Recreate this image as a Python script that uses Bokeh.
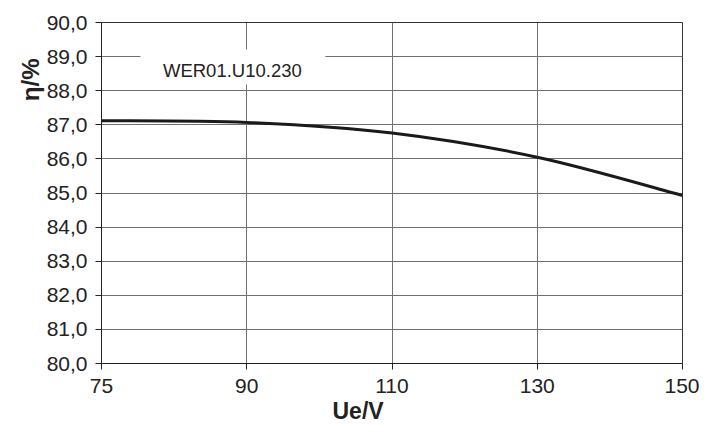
import numpy as np
from bokeh.plotting import figure
from bokeh.models import (FixedTicker, CustomJSTickFormatter, BoxAnnotation,
                          Label, Range1d, ColumnDataSource, Title)
from bokeh.embed import file_html
from bokeh.resources import INLINE

# ---- data ----
u_labels = ["75", "90", "110", "130", "150"]
eta = [87.12, 87.07, 86.76, 86.05, 84.93]
y_ticks = [80, 81, 82, 83, 84, 85, 86, 87, 88, 89, 90]
series_name = "WER01.U10.230"
x_title = "Ue/V"
y_title = "η/%"

xs = list(range(len(u_labels)))

# smooth (Catmull-Rom style) bezier segments through the data points
x0, y0, x1, y1, cx0, cy0, cx1, cy1 = [], [], [], [], [], [], [], []
n = len(xs)
for i in range(n - 1):
    pa = (xs[max(i - 1, 0)], eta[max(i - 1, 0)])
    pb = (xs[i], eta[i])
    pc = (xs[i + 1], eta[i + 1])
    pd = (xs[min(i + 2, n - 1)], eta[min(i + 2, n - 1)])
    x0.append(pb[0]); y0.append(pb[1])
    x1.append(pc[0]); y1.append(pc[1])
    cx0.append(pb[0] + (pc[0] - pa[0]) / 6.0)
    cy0.append(pb[1] + (pc[1] - pa[1]) / 6.0)
    cx1.append(pc[0] - (pd[0] - pb[0]) / 6.0)
    cy1.append(pc[1] - (pd[1] - pb[1]) / 6.0)

src = ColumnDataSource(dict(x0=x0, y0=y0, x1=x1, y1=y1,
                            cx0=cx0, cy0=cy0, cx1=cx1, cy1=cy1))

p = figure(width=699, height=423, output_backend="svg", toolbar_location=None,
           x_range=Range1d(0, len(xs) - 1), y_range=Range1d(y_ticks[0], y_ticks[-1]),
           min_border_left=101, min_border_right=17, min_border_top=22,
           min_border_bottom=55)

p.background_fill_color = "white"
p.border_fill_color = "white"
p.outline_line_color = "#333333"
p.outline_line_width = 1

FONT = "Liberation Sans"

# axes
p.xaxis.ticker = FixedTicker(ticks=xs)
p.xaxis.major_label_overrides = {i: lab for i, lab in enumerate(u_labels)}
p.yaxis.ticker = FixedTicker(ticks=y_ticks)
p.yaxis.formatter = CustomJSTickFormatter(code="return tick.toFixed(1).replace('.', ',');")

for ax in (p.xaxis[0], p.yaxis[0]):
    ax.axis_line_color = "#222222"
    ax.axis_line_width = 1
    ax.major_tick_line_color = "#222222"
    ax.major_tick_out = 6
    ax.major_tick_in = 0
    ax.minor_tick_line_color = None
    ax.major_label_text_font = FONT
    ax.major_label_text_font_size = "21px"
    ax.major_label_text_color = "#222222"
    ax.axis_label = None

p.xaxis.major_label_standoff = 9
p.yaxis.major_label_standoff = 8

p.xgrid.ticker = FixedTicker(ticks=xs)
p.ygrid.ticker = FixedTicker(ticks=y_ticks)
p.grid.grid_line_color = "#707070"
p.grid.grid_line_width = 1

# curve
p.bezier(x0="x0", y0="y0", x1="x1", y1="y1", cx0="cx0", cy0="cy0",
         cx1="cx1", cy1="cy1", source=src, line_color="#1a1a1a", line_width=3)

# legend box (white background hiding grid) + text
p.add_layout(BoxAnnotation(left=0.268, right=1.541, bottom=88.182, top=89.205,
                           fill_color="white", fill_alpha=1.0, line_color=None))
p.add_layout(Label(x=0.901, y=88.58, text=series_name, text_align="center",
                   text_baseline="alphabetic", text_font=FONT,
                   text_font_size="18.5px", text_color="#222222"))

# axis titles
p.add_layout(Title(text=x_title, align="left", offset=231, standoff=0,
                   text_font=FONT, text_font_size="23px", text_font_style="bold",
                   text_color="#222222"), "below")
p.add_layout(Title(text=y_title, align="right", offset=36, standoff=0,
                   text_font=FONT, text_font_size="24px", text_font_style="bold",
                   text_color="#222222"), "left")

open("out.html", "w").write(file_html(p, INLINE))
